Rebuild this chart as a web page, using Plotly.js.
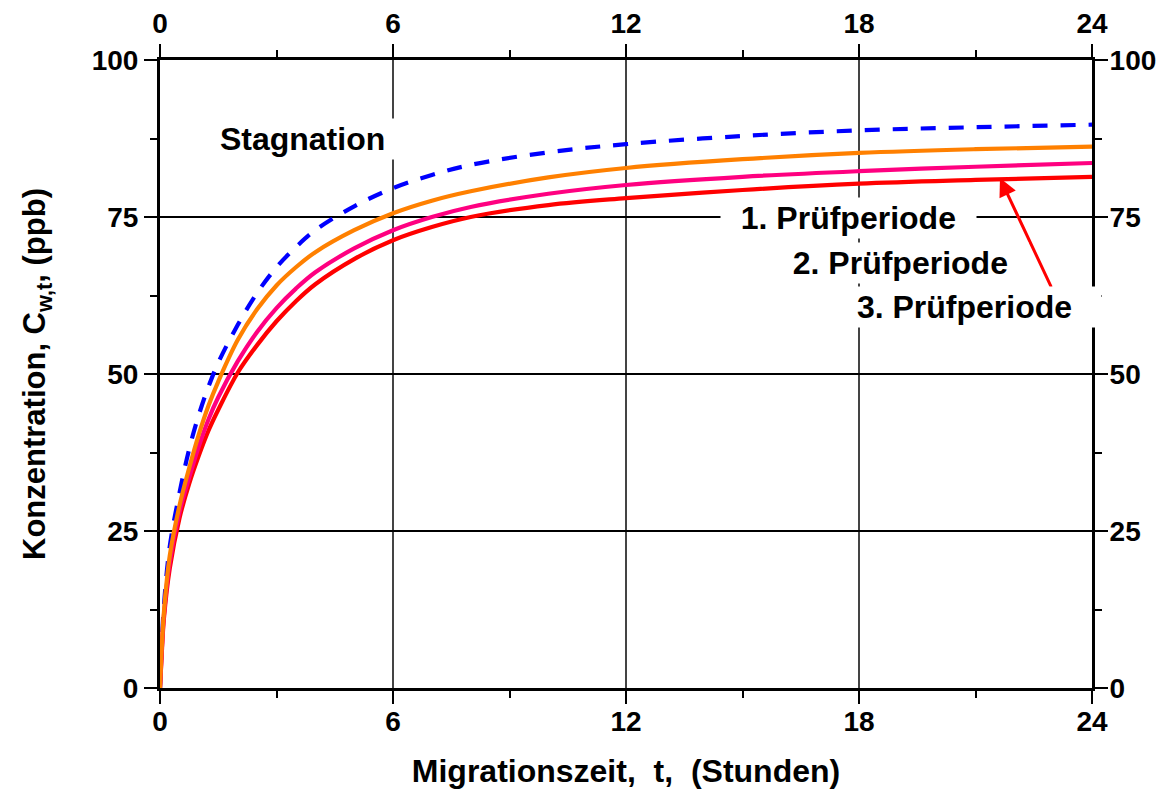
<!DOCTYPE html>
<html>
<head>
<meta charset="utf-8">
<script src="https://cdn.plot.ly/plotly-3.0.1.min.js"></script>
<style>
html,body{margin:0;padding:0;background:#fff;}
#chart{width:1168px;height:791px;}
</style>
</head>
<body>
<div id="chart"></div>
<script>
// Time (hours)
var timeHours  = [0, 0.05, 0.1, 0.25, 0.5, 0.75, 1, 1.25, 1.5, 2, 2.5, 3, 3.5, 4, 5, 6, 7, 8, 10, 12, 15, 18, 21, 24];
// Concentration (ppb)
var stagnation = [0, 7.5, 13, 22.5, 31, 38, 43.5, 48, 51.8, 57.8, 62.9, 67.0, 70.2, 72.9, 76.7, 79.6, 81.7, 83.3, 85.3, 86.6, 87.9, 88.8, 89.3, 89.7];
var periode1   = [0, 7, 12, 21, 29, 35, 40.4, 45, 48.8, 55.4, 60.3, 64.1, 67.0, 69.4, 72.9, 75.6, 77.6, 79.1, 81.3, 82.8, 84.2, 85.2, 85.8, 86.2];
var periode2   = [0, 6.5, 11.5, 20, 28, 33.5, 38.5, 42.8, 46.3, 52.0, 56.7, 60.5, 63.6, 66.2, 70.0, 72.9, 75.0, 76.6, 78.7, 80.1, 81.4, 82.3, 83.0, 83.6];
var periode3   = [0, 6, 11, 19, 27, 32.5, 37, 41, 44.3, 50.2, 54.6, 58.4, 61.6, 64.3, 68.3, 71.3, 73.4, 75.0, 76.9, 78.0, 79.3, 80.3, 80.9, 81.4];

var xTicks = [0, 6, 12, 18, 24];
var yTicks = [0, 25, 50, 75, 100];

var labelStagnation = 'Stagnation';
var label1 = '1. Prüfperiode';
var label2 = '2. Prüfperiode';
var label3 = '3. Prüfperiode';

var FONT = 'Liberation Sans, Arial, sans-serif';
var NB = '\u00a0';

var lineStyle = function (color, dash) {
  return {color: color, width: 4.2, dash: dash || 'solid', shape: 'spline', smoothing: 1};
};

var traces = [
  {x: timeHours, y: stagnation, mode: 'lines', line: lineStyle('#0000FF', '15px,13px'), hoverinfo: 'skip'},
  {x: timeHours, y: periode3, mode: 'lines', line: lineStyle('#FF0000'), hoverinfo: 'skip'},
  {x: timeHours, y: periode2, mode: 'lines', line: lineStyle('#FF0080'), hoverinfo: 'skip'},
  {x: timeHours, y: periode1, mode: 'lines', line: lineStyle('#FF8000'), hoverinfo: 'skip'},
  {x: timeHours, y: periode1, xaxis: 'x2', yaxis: 'y2', mode: 'lines', opacity: 0, line: {width: 0}, hoverinfo: 'skip'}
];

var tickFont = {family: FONT, size: 28, color: '#000', weight: 'bold'};
var xTitleFont = {family: FONT, size: 32, color: '#000', weight: 'bold'};
var yTitleFont = {family: FONT, size: 31, color: '#000', weight: 'bold'};
var annFont = {family: FONT, size: 32, color: '#000', weight: 'bold'};

var minorX = {dtick: 3, tick0: 0, ticks: 'outside', ticklen: 7, tickwidth: 2, tickcolor: '#000', showgrid: false};
var minorY = {dtick: 12.5, tick0: 0, ticks: 'outside', ticklen: 7, tickwidth: 2, tickcolor: '#000', showgrid: false};

var axisCommon = {
  showline: true, linecolor: '#000', linewidth: 3,
  ticks: 'outside', ticklen: 13, tickwidth: 2.5, tickcolor: '#000',
  tickfont: tickFont, zeroline: false, automargin: false
};

var layout = {
  width: 1168, height: 791,
  margin: {l: 160, r: 76, t: 60, b: 103},
  paper_bgcolor: '#fff', plot_bgcolor: '#fff',
  showlegend: false,
  xaxis: Object.assign({}, axisCommon, {
    range: [0, 24], tickvals: xTicks, ticktext: xTicks.map(String),
    showgrid: true, gridcolor: '#444', gridwidth: 1.2,
    ticklabelstandoff: -7,
    minor: minorX,
    title: {text: NB + NB + NB + 'Migrationszeit,' + NB + NB + 't,' + NB + NB + '(Stunden)', font: xTitleFont, standoff: 25}
  }),
  yaxis: Object.assign({}, axisCommon, {
    range: [0, 100], tickvals: yTicks, ticktext: yTicks.map(String),
    showgrid: true, gridcolor: '#000', gridwidth: 1.2,
    minor: minorY,
    title: {text: NB + NB + NB + 'Konzentration, C<sub>w,t</sub>, (ppb)', font: yTitleFont, standoff: 37}
  }),
  xaxis2: Object.assign({}, axisCommon, {
    overlaying: 'x', side: 'top', anchor: 'y2',
    range: [0, 24], tickvals: xTicks, ticktext: xTicks.map(String),
    showgrid: false, minor: minorX
  }),
  yaxis2: Object.assign({}, axisCommon, {
    overlaying: 'y', side: 'right', anchor: 'x2',
    range: [0, 100], tickvals: yTicks, ticktext: yTicks.map(String),
    showgrid: false, ticklabelstandoff: -4, minor: minorY
  }),
  annotations: [
    {x: 3.68, y: 87.4, xref: 'x', yref: 'y', text: NB + labelStagnation + NB, showarrow: false,
     font: annFont, bgcolor: '#fff', borderpad: 2, xanchor: 'center', yanchor: 'middle'},
    {x: 21.63, y: 81.2, xref: 'x', yref: 'y', ax: 22.97, ay: 63.6, axref: 'x', ayref: 'y',
     text: '', showarrow: true, arrowcolor: '#FF0000', arrowwidth: 3, arrowhead: 2, arrowsize: 1.2},
    {x: 17.72, y: 74.8, xref: 'x', yref: 'y', text: NB + NB + label1 + NB + NB, showarrow: false,
     font: annFont, bgcolor: '#fff', borderpad: 2, xanchor: 'center', yanchor: 'middle'},
    {x: 19.08, y: 67.7, xref: 'x', yref: 'y', text: NB + NB + label2 + NB + NB, showarrow: false,
     font: annFont, bgcolor: '#fff', borderpad: 2, xanchor: 'center', yanchor: 'middle'},
    {x: 20.94, y: 60.7, xref: 'x', yref: 'y', text: NB + label3 + NB + NB + NB, showarrow: false,
     font: annFont, bgcolor: '#fff', borderpad: 2, xanchor: 'center', yanchor: 'middle'}
  ]
};

Plotly.newPlot('chart', traces, layout, {displayModeBar: false, staticPlot: true});
</script>
</body>
</html>
